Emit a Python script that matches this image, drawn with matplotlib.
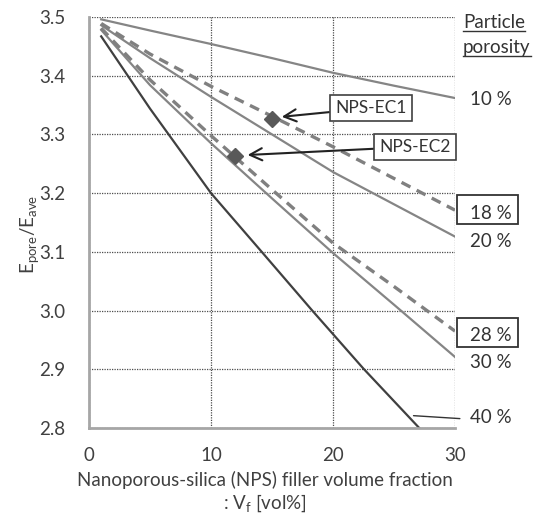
import matplotlib
matplotlib.use("Agg")
import matplotlib.pyplot as plt
from matplotlib.lines import Line2D
from matplotlib.patches import Rectangle

plt.rcParams['font.family'] = ['Lato', 'DejaVu Sans']
plt.rcParams['mathtext.default'] = 'regular'

# ---- data ----
vf = [1, 5, 10, 15, 20, 25, 30]
p10 = [3.496, 3.477, 3.454, 3.430, 3.405, 3.383, 3.362]
p18 = [3.489, 3.437, 3.382, 3.331, 3.279, 3.225, 3.171]
p20 = [3.486, 3.430, 3.364, 3.300, 3.236, 3.181, 3.126]
p28 = [3.481, 3.393, 3.298, 3.206, 3.115, 3.041, 2.965]
p30 = [3.478, 3.384, 3.285, 3.191, 3.098, 3.010, 2.921]
vf40 = [1, 5, 10, 14.2, 18.3, 22.5, 27.07]
p40 = [3.467, 3.344, 3.200, 3.099, 3.000, 2.901, 2.800]

samples = ['NPS-EC1', 'NPS-EC2']
sample_vf = [15, 12]
sample_e = [3.327, 3.263]

porosity_labels = ['10 %', '18 %', '20 %', '28 %', '30 %', '40 %']
label_y = [3.359, 3.166, 3.117, 2.957, 2.911, 2.818]
boxed = [False, True, False, True, False, False]

xticks = [0, 10, 20, 30]
yticks = [2.8, 2.9, 3.0, 3.1, 3.2, 3.3, 3.4, 3.5]

FS = 13.5

# ---- figure ----
fig = plt.figure(figsize=(5.34, 5.15), dpi=100)
ax = fig.add_axes([89/534, 1-428/515, (455-89)/534, (428-17)/515])

solid_c = '#858585'
dash_c = '#808080'
ax.plot(vf, p10, color=solid_c, lw=1.6)
ax.plot(vf, p20, color=solid_c, lw=1.6)
ax.plot(vf, p30, color=solid_c, lw=1.6)
ax.plot(vf, p18, color=dash_c, lw=2.4, ls=(0, (3.0, 2.1)))
ax.plot(vf, p28, color=dash_c, lw=2.4, ls=(0, (3.0, 2.1)))
ax.plot(vf40, p40, color='#404040', lw=1.6)

ax.plot(sample_vf, sample_e, ls='none', marker='D', ms=8.5, color='#595959', zorder=5)

ax.set_xlim(0, 30)
ax.set_ylim(2.8, 3.5)
ax.set_xticks(xticks)
ax.set_yticks(yticks)
ax.set_yticklabels(['%.1f' % v for v in yticks])
ax.tick_params(length=0, labelsize=FS, colors='#404040')
ax.tick_params(axis='y', pad=17)
ax.tick_params(axis='x', pad=14)
ax.grid(True, ls=(0, (1, 1)), color='#4d4d4d', lw=0.9)
for s in ['top', 'right']:
    ax.spines[s].set_visible(False)
for s in ['left', 'bottom']:
    ax.spines[s].set_color('#a6a6a6')
    ax.spines[s].set_linewidth(2)

ax.set_xlabel('Nanoporous-silica (NPS) filler volume fraction\n: $V_f$ [vol%]',
              fontsize=FS, color='#404040', linespacing=1.2)
ax.xaxis.set_label_coords(0.48, -0.105)
ax.xaxis.label.set_va('top')
ax.set_ylabel('$E_{pore}/E_{ave}$', fontsize=FS, color='#404040')
ax.yaxis.set_label_coords(-0.13, 0.47)

# sample annotations
ann_pos = [(23.1, 3.345), (26.7, 3.279)]
tips = [(15.8, 3.330), (13.0, 3.265)]
for name, (tx, ty), (hx, hy) in zip(samples, ann_pos, tips):
    ax.annotate(name, xy=(hx, hy), xytext=(tx, ty), ha='center', va='center',
                fontsize=12.5, color='#333333',
                bbox=dict(boxstyle='square,pad=0.3', fc='white', ec='#404040', lw=1.2),
                arrowprops=dict(arrowstyle='->,head_length=0.7,head_width=0.35',
                                color='#222222', lw=1.5, shrinkA=0, shrinkB=0))

# porosity labels
for lab, y, b in zip(porosity_labels, label_y, boxed):
    ax.text(31.2, y, lab, fontsize=FS, color='#333333', ha='left', va='center',
            clip_on=False)
    if b:
        ax.add_patch(Rectangle((30.15, y - 0.019), 5.0, 0.05, fill=False,
                               ec='#333333', lw=1.3, clip_on=False, zorder=6))

# leader line for 40 %
ax.annotate('', xy=(26.6, 2.821), xytext=(30.4, 2.816),
            arrowprops=dict(arrowstyle='-', color='#333333', lw=1.0,
                            shrinkA=0, shrinkB=0), annotation_clip=False)

# header
t1 = fig.text(463/534, 1-23/515, 'Particle', fontsize=FS, color='#333333',
              ha='left', va='center')
t2 = fig.text(463/534, 1-48/515, 'porosity', fontsize=FS, color='#333333',
              ha='left', va='center')
fig.canvas.draw()
r = fig.canvas.get_renderer()
for t in (t1, t2):
    bb = t.get_window_extent(r)
    yline = bb.y0 + 1
    fig.add_artist(Line2D([bb.x0 / fig.bbox.width, bb.x1 / fig.bbox.width],
                          [yline / fig.bbox.height, yline / fig.bbox.height],
                          color='#333333', lw=1.0, transform=fig.transFigure))

fig.savefig('out.png', dpi=100)
